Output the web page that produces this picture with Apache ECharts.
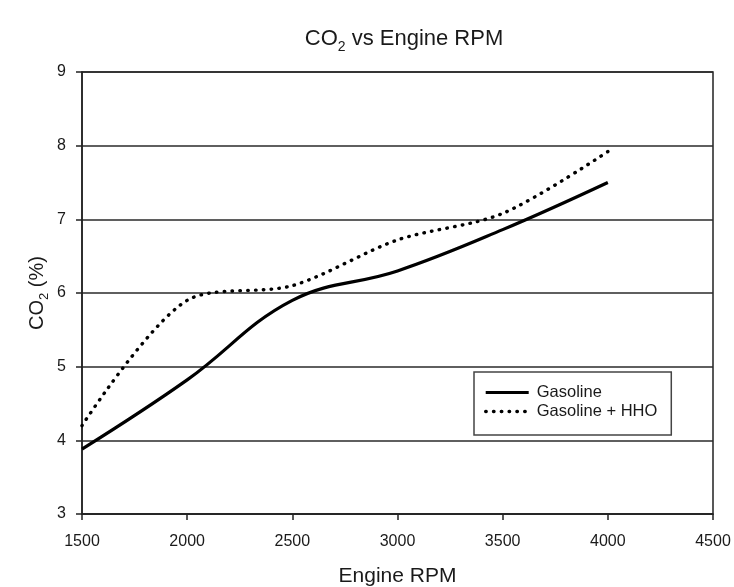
<!DOCTYPE html>
<html>
<head>
<meta charset="utf-8">
<script src="https://cdn.jsdelivr.net/npm/echarts@6/dist/echarts.min.js"></script>
<style>
html,body{margin:0;padding:0;background:#fff;}
#chart{width:734px;height:587px;}
</style>
</head>
<body>
<div id="chart"></div>
<script>
const rpm = [1500, 2000, 2500, 3000, 3500, 4000];
const gasoline = [3.88, 4.82, 5.9, 6.3, 6.86, 7.5];
const gasolineHHO = [4.2, 5.9, 6.1, 6.72, 7.08, 7.92];
const seriesNames = ['Gasoline', 'Gasoline + HHO'];
const xTicks = { min: 1500, max: 4500, step: 500 };
const yTicks = { min: 3, max: 9, step: 1 };

const FONT = '"Liberation Sans", Arial, sans-serif';
const TXT = '#1a1a1a';
const SOLID = { color: '#000', width: 3.2, type: 'solid' };
const DOTTED = { color: '#000', width: 3.4, type: [0.5, 7.3], cap: 'round' };

const chart = echarts.init(document.getElementById('chart'), null, { renderer: 'canvas' });

const option = {
  backgroundColor: '#fff',
  animation: false,
  title: {
    text: '{a|CO}{s|2}{a| vs Engine RPM}',
    left: 399,
    top: 19,
    textAlign: 'center',
    textStyle: {
      fontFamily: FONT,
      fontWeight: 'normal',
      rich: {
        a: { fontSize: 22, fontFamily: FONT, fontWeight: 'normal', color: TXT, lineHeight: 30, verticalAlign: 'middle' },
        s: { fontSize: 14, fontFamily: FONT, fontWeight: 'normal', color: TXT, lineHeight: 30, verticalAlign: 'bottom' }
      }
    }
  },
  grid: {
    left: 82, right: 21, top: 72, bottom: 73,
    show: true, borderColor: '#222', borderWidth: 1.5, backgroundColor: 'transparent',
    containLabel: false,
    outerBoundsMode: 'none'
  },
  legend: {
    orient: 'vertical',
    left: 474,
    top: 372,
    width: 202,
    padding: [12, 14, 15, 10],
    itemGap: 2,
    itemWidth: 43,
    itemHeight: 17,
    backgroundColor: '#fff',
    borderColor: '#444',
    borderWidth: 1.5,
    borderRadius: 0,
    itemStyle: { opacity: 0 },
    data: [
      { name: seriesNames[0], lineStyle: SOLID },
      { name: seriesNames[1], lineStyle: DOTTED }
    ],
    textStyle: { fontFamily: FONT, fontSize: 16.5, color: TXT, padding: [0, 0, 0, 3] }
  },
  xAxis: {
    type: 'value',
    min: xTicks.min, max: xTicks.max, interval: xTicks.step,
    name: 'Engine RPM',
    nameLocation: 'middle',
    nameGap: 52,
    nameMoveOverlap: false,
    nameTextStyle: { fontFamily: FONT, fontSize: 21, color: TXT },
    axisLine: { show: true, onZero: false, lineStyle: { color: '#222', width: 1.5 } },
    axisTick: { show: true, inside: false, length: 6, lineStyle: { color: '#222', width: 1.5 } },
    axisLabel: { fontFamily: FONT, fontSize: 16, color: TXT, margin: 20, formatter: v => String(v) },
    splitLine: { show: false }
  },
  yAxis: {
    type: 'value',
    min: yTicks.min, max: yTicks.max, interval: yTicks.step,
    name: '{a|CO}{s|2}{a| (%)}',
    nameLocation: 'middle',
    nameGap: 31,
    nameMoveOverlap: false,
    nameRotate: 90,
    nameTextStyle: {
      fontFamily: FONT,
      rich: {
        a: { fontSize: 20, fontFamily: FONT, color: TXT, lineHeight: 28, verticalAlign: 'middle' },
        s: { fontSize: 13, fontFamily: FONT, color: TXT, lineHeight: 28, verticalAlign: 'bottom' }
      }
    },
    axisLine: { show: true, onZero: false, lineStyle: { color: '#222', width: 1.5 } },
    axisTick: { show: true, inside: false, length: 6, lineStyle: { color: '#222', width: 1.5 } },
    axisLabel: { fontFamily: FONT, fontSize: 16, color: TXT, margin: 16 },
    splitLine: { show: true, lineStyle: { color: '#2a2a2a', width: 1.5 } }
  },
  series: [
    {
      name: seriesNames[0],
      type: 'line',
      smooth: 0.4,
      symbol: 'none',
      data: rpm.map((x, i) => [x, gasoline[i]]),
      lineStyle: SOLID,
      itemStyle: { color: '#000' },
      z: 3
    },
    {
      name: seriesNames[1],
      type: 'line',
      smooth: 0.3,
      symbol: 'none',
      data: rpm.map((x, i) => [x, gasolineHHO[i]]),
      lineStyle: DOTTED,
      itemStyle: { color: '#000' },
      z: 3
    }
  ]
};
chart.setOption(option);
</script>
</body>
</html>
